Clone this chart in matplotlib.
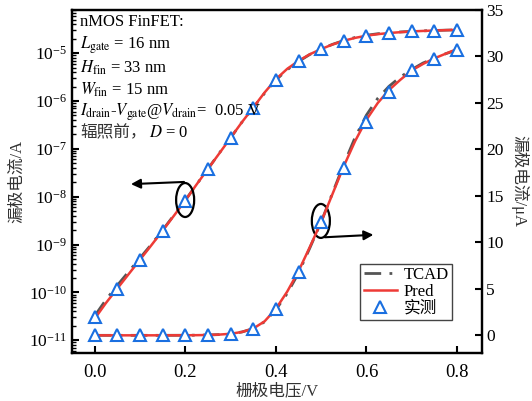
import numpy as np
import matplotlib
matplotlib.use("Agg")
import matplotlib.pyplot as plt
from matplotlib.patches import Ellipse

plt.rcParams['font.family'] = ['Liberation Serif', 'Noto Sans CJK SC']
plt.rcParams['mathtext.fontset'] = 'stix'
plt.rcParams['font.size'] = 11

# measured points (gate voltage in V, drain current in A)
vg_meas = [0.0, 0.05, 0.1, 0.15, 0.2, 0.25, 0.3, 0.35, 0.4, 0.45,
           0.5, 0.55, 0.6, 0.65, 0.7, 0.75, 0.8]
id_meas = [3.0e-11, 1.2e-10, 4.7e-10, 1.9e-9, 8.3e-9, 3.8e-8, 1.7e-7, 7.2e-7,
           2.8e-6, 6.8e-6, 1.22e-5, 1.8e-5, 2.3e-5, 2.62e-5, 2.85e-5, 2.97e-5, 3.07e-5]

# curves
vg_line = [0.0, 0.025, 0.05, 0.075, 0.1, 0.125, 0.15, 0.175, 0.2, 0.225, 0.25,
           0.275, 0.3, 0.325, 0.35, 0.375, 0.4, 0.425, 0.45, 0.475, 0.5, 0.525,
           0.55, 0.575, 0.6, 0.625, 0.65, 0.675, 0.7, 0.725, 0.75, 0.775, 0.8]
id_pred = [2.8e-11, 6.0e-11, 1.2e-10, 2.4e-10, 4.8e-10, 9.6e-10, 1.95e-9, 4.0e-9,
           8.3e-9, 1.8e-8, 3.8e-8, 8.0e-8, 1.7e-7, 3.6e-7, 7.3e-7, 1.5e-6, 2.85e-6,
           4.7e-6, 6.9e-6, 9.5e-6, 1.22e-5, 1.52e-5, 1.82e-5, 2.09e-5, 2.32e-5,
           2.50e-5, 2.64e-5, 2.75e-5, 2.85e-5, 2.92e-5, 2.98e-5, 3.03e-5, 3.08e-5]
id_tcad = [3.2e-11, 7.0e-11, 1.4e-10, 2.7e-10, 5.2e-10, 1.0e-9, 2.0e-9, 4.1e-9,
           8.4e-9, 1.8e-8, 3.8e-8, 8.1e-8, 1.7e-7, 3.6e-7, 7.2e-7, 1.45e-6, 2.75e-6,
           4.5e-6, 6.7e-6, 9.4e-6, 1.22e-5, 1.53e-5, 1.84e-5, 2.13e-5, 2.37e-5,
           2.55e-5, 2.68e-5, 2.78e-5, 2.86e-5, 2.93e-5, 2.98e-5, 3.03e-5, 3.07e-5]

x_ticks = [0.0, 0.2, 0.4, 0.6, 0.8]
right_ticks = [0, 5, 10, 15, 20, 25, 30, 35]

red = '#ee3b36'
blue = '#1a6fe0'
gray = '#555555'

fig = plt.figure(figsize=(5.32, 4.01), dpi=100)
ax = fig.add_axes([0.1353, 0.1197, 0.7707, 0.8554])
ax2 = ax.twinx()

# log scale (left)
ax.plot(vg_line, id_tcad, color=gray, lw=2, ls=(0, (6, 3, 1, 3)))
ax.plot(vg_line, id_pred, color=red, lw=1.8)
ax.plot(vg_meas, id_meas, ls='none', marker='^', ms=9, mfc='white',
        mec=blue, mew=1.5)
ax.set_yscale('log')
ax.set_ylim(5.4e-12, 8e-5)
ax.set_xlim(-0.05, 0.855)
ax.set_xticks(x_ticks)
ax.set_yticks([1e-11, 1e-10, 1e-9, 1e-8, 1e-7, 1e-6, 1e-5])

# linear scale (right), in uA
ua = lambda v: [i * 1e6 for i in v]
h1, = ax2.plot(vg_line, ua(id_tcad), color=gray, lw=2, ls=(0, (6, 3, 1, 3)), label='TCAD')
h2, = ax2.plot(vg_line, ua(id_pred), color=red, lw=1.8, label='Pred')
h3, = ax2.plot(vg_meas, ua(id_meas), ls='none', marker='^', ms=9, mfc='white',
               mec=blue, mew=1.5, label='实测')
ax2.set_ylim(-1.9, 35)
ax2.set_yticks(right_ticks)

for a in (ax, ax2):
    for s in a.spines.values():
        s.set_linewidth(1.6)
ax.tick_params(axis='both', which='major', direction='in', length=5, width=1.5,
               labelsize=12.5, top=False)
ax.tick_params(axis='x', pad=8, labelsize=13.5)
ax.tick_params(axis='y', which='minor', direction='in', length=3, width=1)
ax.tick_params(axis='x', which='minor', bottom=False)
ax2.tick_params(axis='y', direction='in', length=5, width=1.5, labelsize=12.5, pad=3)

ax.set_xlabel('栅极电压/V', fontsize=12, color='#333333')
ax.set_ylabel('漏极电流/A', fontsize=12, color='#333333')
ax2.set_ylabel('漏极电流/μA', fontsize=12, color='#333333', rotation=270, va='center')
ax.xaxis.set_label_coords(0.5, -0.087)
ax.yaxis.set_label_coords(-0.115, 0.5)
ax2.yaxis.set_label_coords(1.092, 0.5)

leg = ax2.legend(handles=[h1, h2, h3], loc='lower right', bbox_to_anchor=(0.927, 0.096),
                 fancybox=False, edgecolor='#444444', framealpha=1,
                 handlelength=2.0, handletextpad=0.4, borderpad=0.2,
                 borderaxespad=0, labelspacing=0.05, fontsize=12)
leg.get_frame().set_linewidth(1.0)

# annotation text
lines = ['nMOS FinFET:',
         r'$L_{\rm gate}$ = 16 nm',
         r'$H_{\rm fin}$ = 33 nm',
         r'$W_{\rm fin}$ = 15 nm',
         r'$I_{\rm drain}$-$V_{\rm gate}$@$V_{\rm drain}$=  0.05 V']
ys = [0.965, 0.898, 0.831, 0.767, 0.703]
for t, y in zip(lines, ys):
    ax.text(0.02, y, t, transform=ax.transAxes, va='center', ha='left', fontsize=12)
t_cn = ax.text(0.02, 0.641, '辐照前，', transform=ax.transAxes, va='center',
               ha='left', fontsize=12, color='#333333')
ax.annotate(r'$D$ = 0', xy=(1, 0.5), xycoords=t_cn, xytext=(2, 0),
            textcoords='offset points', va='center', ha='left', fontsize=12)

# ellipses and arrows
ax.add_patch(Ellipse((0.276, 0.446), 0.044, 0.099, transform=ax.transAxes,
                     fill=False, ec='black', lw=1.6, zorder=5))
ax.annotate('', xy=(0.137, 0.492), xytext=(0.28, 0.499), xycoords='axes fraction',
            arrowprops=dict(arrowstyle='-|>', color='black', lw=1.5, mutation_scale=14))
ax.add_patch(Ellipse((0.607, 0.385), 0.044, 0.099, transform=ax.transAxes,
                     fill=False, ec='black', lw=1.6, zorder=5))
ax.annotate('', xy=(0.742, 0.345), xytext=(0.61, 0.337), xycoords='axes fraction',
            arrowprops=dict(arrowstyle='-|>', color='black', lw=1.5, mutation_scale=14))

fig.savefig('out.png', dpi=100)
